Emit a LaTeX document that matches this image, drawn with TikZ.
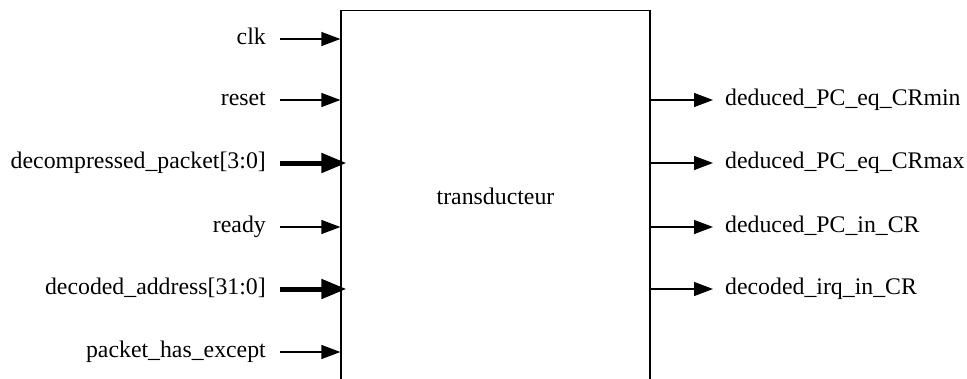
\documentclass[tikz,border=0pt]{standalone}
\usepackage{fontspec}
\setmainfont{Liberation Serif}
\usetikzlibrary{arrows.meta}
\tikzset{sig/.style={line width=1.2pt, -{Triangle[length=19pt,width=14pt]}},
  bus/.style={line width=5pt, -{Triangle[length=25pt,width=19pt]}},
  pin/.style={inner sep=0pt}}

\begin{document}
\fontsize{23.8}{28}\selectfont
\begin{tikzpicture}[x=1pt,y=-1pt]
  \useasboundingbox (0,0) rectangle (967,378);
  \clip (0,0) rectangle (967,378);

  \node [draw, line width=1.2pt, minimum width=309pt, minimum height=371pt, inner sep=0pt] (trans) at (495.5,196) {transducteur};

  % entrees
  \node [pin, anchor=mid east] (clk) at (266,39) {clk};
  \node [pin, anchor=mid east] (reset) at (266,100) {reset};
  \node [pin, anchor=mid east] (packet) at (266,163) {decompressed\_packet[3:0]};
  \node [pin, anchor=mid east] (ready) at (266,227) {ready};
  \node [pin, anchor=mid east] (addr) at (266,289) {decoded\_address[31:0]};
  \node [pin, anchor=mid east] (except) at (266,352) {packet\_has\_except};

  \draw [sig] ([xshift=14pt]clk.mid east) -- (clk.mid east -| trans.west);
  \draw [sig] ([xshift=14pt]reset.mid east) -- (reset.mid east -| trans.west);
  \draw [bus] ([xshift=14pt]packet.mid east) -- ([xshift=6pt]packet.mid east -| trans.west);
  \draw [sig] ([xshift=14pt]ready.mid east) -- (ready.mid east -| trans.west);
  \draw [bus] ([xshift=14pt]addr.mid east) -- ([xshift=6pt]addr.mid east -| trans.west);
  \draw [sig] ([xshift=14pt]except.mid east) -- (except.mid east -| trans.west);

  % sorties
  \node [pin, anchor=mid west] (crmin) at (725,100) {deduced\_PC\_eq\_CRmin};
  \node [pin, anchor=mid west] (crmax) at (725,163) {deduced\_PC\_eq\_CRmax};
  \node [pin, anchor=mid west] (incr) at (725,227) {deduced\_PC\_in\_CR};
  \node [pin, anchor=mid west] (irq) at (725,289) {decoded\_irq\_in\_CR};

  \draw [sig] (crmin.mid west -| trans.east) -- ([xshift=-12pt]crmin.mid west);
  \draw [sig] (crmax.mid west -| trans.east) -- ([xshift=-12pt]crmax.mid west);
  \draw [sig] (incr.mid west -| trans.east) -- ([xshift=-12pt]incr.mid west);
  \draw [sig] (irq.mid west -| trans.east) -- ([xshift=-12pt]irq.mid west);
\end{tikzpicture}
\end{document}
